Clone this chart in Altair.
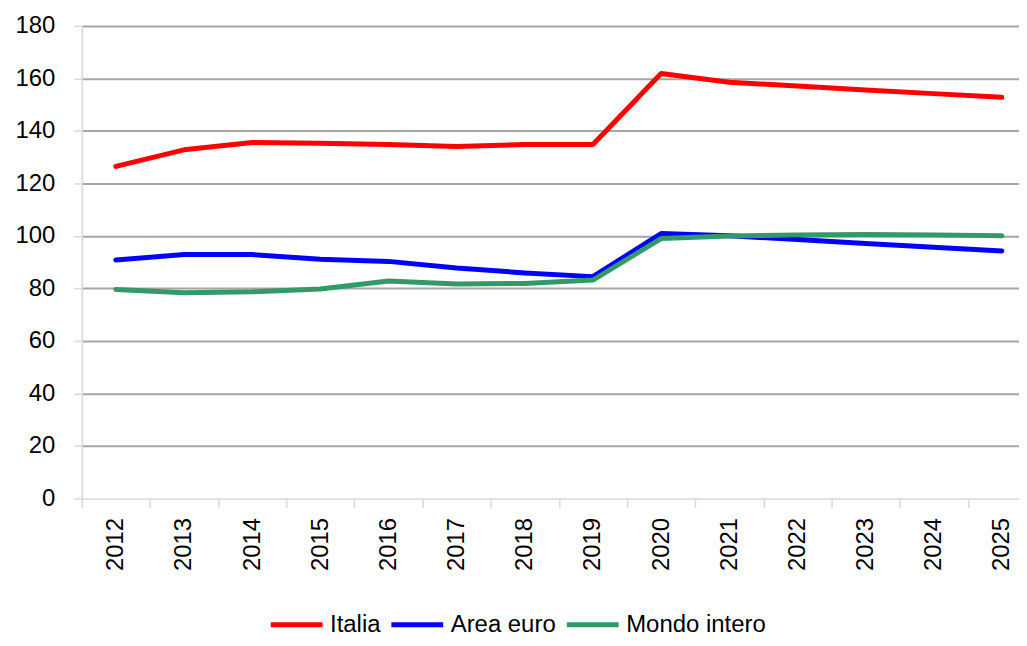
import altair as alt
import pandas as pd

years = [str(y) for y in range(2012, 2026)]
italia = [126.5, 132.8, 135.6, 135.3, 134.8, 134.1, 134.8, 134.8, 161.9, 158.5, 157.1, 155.6, 154.2, 152.8]
area_euro = [90.8, 92.9, 92.9, 91.1, 90.3, 87.8, 85.9, 84.5, 100.9, 100.1, 98.6, 97.1, 95.7, 94.3]
mondo = [79.6, 78.4, 78.7, 79.8, 82.8, 81.7, 81.9, 83.2, 99.0, 100.0, 100.4, 100.5, 100.4, 100.1]
series = ["Italia", "Area euro", "Mondo intero"]
colors = ["#ff0000", "#0000ff", "#339966"]
y_ticks = list(range(0, 181, 20))

df = pd.DataFrame({
    "Anno": years * 3,
    "Serie": [series[0]] * len(years) + [series[1]] * len(years) + [series[2]] * len(years),
    "Valore": italia + area_euro + mondo,
})

font = "Liberation Sans"

chart = alt.Chart(df).mark_line(
    strokeWidth=5, strokeCap="round", strokeJoin="round"
).encode(
    x=alt.X(
        "Anno:O",
        sort=years,
        scale=alt.Scale(type="band", range=[0, 957], paddingInner=0, paddingOuter=0),
        axis=alt.Axis(
            title=None, labelAngle=-90, labelFontSize=24, labelFont=font,
            labelColor="#000000", tickBand="extent", tickSize=9,
            tickColor="#d9d9d9", tickWidth=1.5, domain=False,
            labelPadding=10, grid=False,
        ),
    ),
    y=alt.Y(
        "Valore:Q",
        scale=alt.Scale(domain=[0, 180], nice=False),
        axis=alt.Axis(
            title=None, values=y_ticks, labelFontSize=24, labelFont=font,
            labelColor="#000000", tickSize=8, tickColor="#d9d9d9",
            tickWidth=1.5, domainColor="#d9d9d9", domainWidth=1.5,
            labelPadding=19,
            gridColor={"condition": {"test": "datum.value === 0", "value": "#d9d9d9"}, "value": "#a6a6a6"},
            gridWidth={"condition": {"test": "datum.value === 0", "value": 1.5}, "value": 2},
        ),
    ),
    color=alt.Color(
        "Serie:N",
        scale=alt.Scale(domain=series, range=colors),
        legend=alt.Legend(
            title=None, orient="none", legendX=187, legendY=572,
            direction="horizontal", symbolType="stroke", symbolSize=2704,
            symbolStrokeWidth=5, labelFontSize=24, labelFont=font,
            labelColor="#000000", columnPadding=0, labelOffset=5,
        ),
    ),
).properties(
    width=940,
    height=474,
    autosize=alt.AutoSizeParams(type="none"),
    padding={"left": 74, "top": 17, "right": 0, "bottom": 139},
).configure_view(stroke=None)

chart.save("out.html", embed_options={"renderer": "svg", "actions": False})
